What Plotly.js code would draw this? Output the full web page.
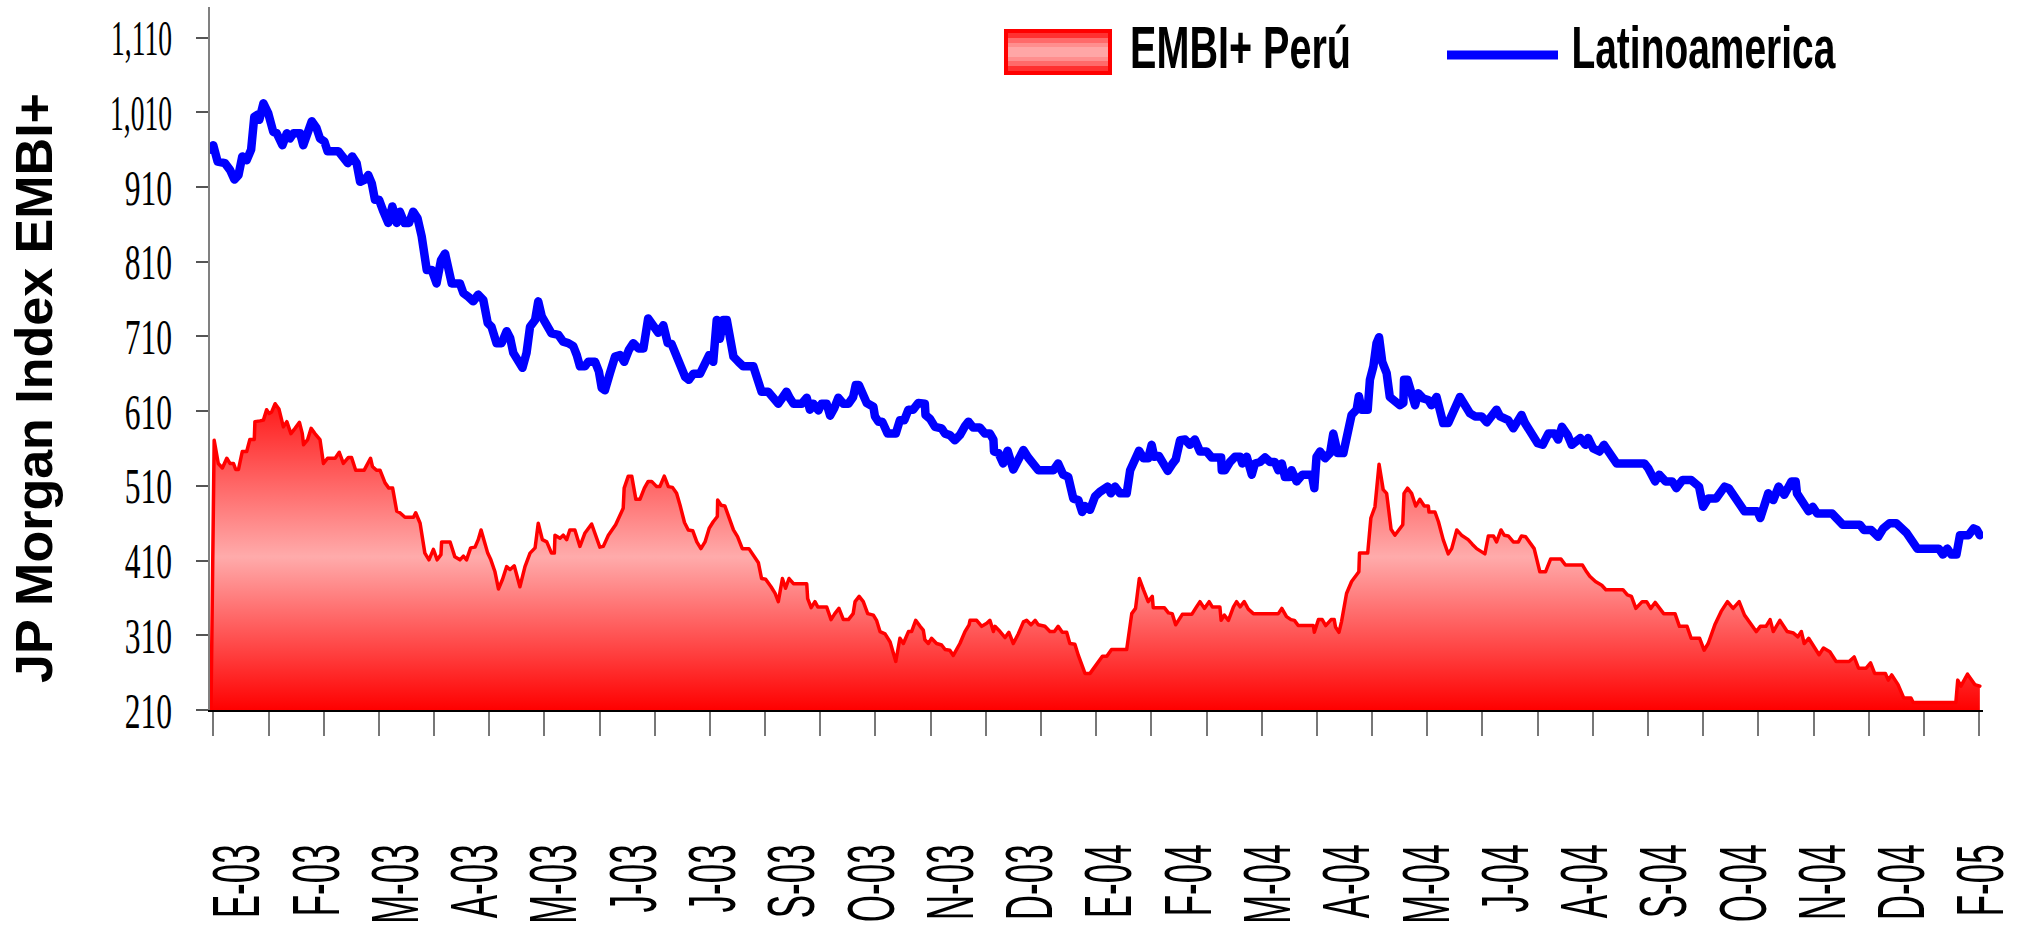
<!DOCTYPE html>
<html>
<head>
<meta charset="utf-8">
<script src="https://cdn.plot.ly/plotly-3.0.1.min.js"></script>
<style>
  html, body { margin: 0; padding: 0; background: #fff; }
  #chart { width: 2019px; height: 926px; }
  .scatterlayer .js-line { stroke-linejoin: round; stroke-linecap: round; }
</style>
</head>
<body>
<div id="chart"></div>
<script>
// ---- data (trading-day index along the x axis) ----
const latamX = [0,0.7,2.1,4.4,6.0,7.4,8.7,9.9,11.3,12.7,13.7,14.8,15.3,16.6,18.1,19.7,20.8,21.5,22.6,24.0,25.0,26.1,28.2,29.2,30.3,31.9,33.4,34.5,35.9,36.9,40.3,41.9,43.3,44.7,46.1,47.2,48.7,49.8,50.9,51.9,53.2,54.6,56.1,57.4,58.8,59.8,61.2,62.7,64.0,65.4,66.7,68.3,69.9,71.4,72.8,74.1,75.1,76.2,78.8,79.9,81.5,83.0,84.6,86.2,87.6,88.8,90.4,92.0,93.6,94.7,95.7,97.3,98.6,99.9,101.0,102.6,103.6,104.7,106.3,107.8,110.0,111.5,113.1,114.7,115.8,116.8,118.4,119.4,121.6,122.8,123.7,124.7,126.3,127.9,129.5,130.8,132.3,133.7,135.3,136.9,138.4,
140.0,141.6,143.2,144.6,145.8,147.4,148.8,150.1,151.3,152.7,154.8,156.4,157.7,159.0,160.1,161.1,162.2,163.3,164.3,165.4,167.0,168.5,171.7,173.3,174.3,176.4,178.0,179.6,180.9,182.2,183.3,184.4,187.0,188.6,189.6,190.7,192.3,193.3,194.9,196.0,197.3,198.6,200.2,201.8,203.3,204.1,205.1,206.5,207.6,209.7,210.2,211.3,212.5,214.2,216.8,218.1,219.5,220.8,222.3,223.9,226.0,226.2,227.6,229.2,231.3,232.4,233.9,235.5,237.1,238.7,239.8,241.3,243.4,245.0,246.6,247.7,247.9,249.3,250.8,252.2,254.0,255.6,257.2,258.7,260.3,261.9,266.7,268.2,269.8,271.4,273.0,274.6,275.8,276.7,278.3,
279.9,281.4,283.0,283.9,284.9,286.2,287.8,289.9,291.0,292.5,293.8,295.2,296.7,297.8,298.6,300.1,301.5,302.9,304.3,305.4,306.8,308.4,309.9,311.5,313.1,315.2,316.8,319.8,320.0,321.0,322.6,324.2,325.8,326.5,327.9,329.5,330.5,332.1,333.7,335.3,336.8,337.9,339.0,340.0,341.3,342.1,343.7,345.5,348.5,349.3,350.0,351.1,352.7,354.3,355.3,356.7,358.5,360.1,361.1,362.7,363.4,364.3,366.2,366.9,368.0,369.0,369.8,370.8,372.2,373.2,374.8,376.4,377.5,377.7,378.8,380.1,381.2,382.2,383.8,385.4,386.4,388.0,389.1,390.1,391.7,392.8,393.3,395.4,397.0,398.6,400.2,402.3,403.9,405.4,407.0,408.1,409.7,410.7,412.3,413.7,414.9,416.0,417.6,
420.0,421.6,423.4,425.4,426.5,427.7,429.5,430.8,433.5,435.1,436.0,437.6,439.6,441.0,443.0,445.0,453.8,455.1,457.2,458.5,460.5,462.6,463.9,465.9,468.6,471.1,472.4,474.0,476.5,479.2,480.5,482.1,485.5,489.6,490.5,493.0,494.6,496.3,498.1,500.4,501.7,502.1,503.7,505.8,507.1,508.5,513.2,516.6,522.0,523.3,525.6,527.8,529.4,531.4,533.5,535.5,536.8,540.2,547.0,548.3,549.7,551.0,552.6,553.7,556.4,558.0,559.1,560];
const latamY = [960,966,944,942,933,920,926,951,946,960,1004,1007,1000,1022,1009,984,982,973,966,982,975,982,982,966,982,998,989,975,971,958,958,949,942,951,942,917,920,926,915,893,893,877,862,884,862,877,862,862,877,868,844,799,799,781,812,821,804,781,781,768,763,757,766,759,728,723,701,701,717,708,688,676,668,688,723,732,757,737,723,714,712,703,701,697,685,670,670,676,676,663,641,638,661,683,685,676,692,701,694,694,734,
723,715,725,701,700,683,672,656,652,660,660,675,685,676,732,707,732,732,705,683,676,670,670,650,636,636,626,620,628,636,627,620,620,628,612,620,611,620,620,604,614,628,620,620,629,645,645,634,621,616,603,596,596,580,580,598,598,612,612,621,620,605,600,589,587,580,578,571,578,590,596,588,588,580,580,572,556,554,540,557,532,545,558,548,540,531,531,540,525,522,493,491,475,483,478,
496,502,505,509,500,509,500,500,531,545,557,547,547,565,549,550,540,530,539,545,571,572,565,572,556,556,548,548,531,531,542,549,549,540,549,525,540,542,548,542,542,531,540,522,522,531,516,525,525,507,549,556,547,554,580,554,554,580,605,612,630,612,612,652,670,701,709,676,661,629,625,618,621,652,652,632,618,634,627,625,618,629,612,594,594,603,612,629,618,607,603,603,595,603,612,603,598,598,587,598,605,594,583,
567,565,580,580,572,589,578,565,574,565,574,560,556,565,551,540,540,533,516,525,516,516,507,518,518,509,482,493,493,509,507,498,476,476,467,500,491,509,498,516,516,500,491,476,482,473,473,458,458,451,451,442,453,460,460,451,447,426,426,418,426,418,418,444,444,453,451,444];

const peruX = [0,1.0,2.3,3.6,5.0,6.0,7.1,7.8,8.7,9.9,11.3,12.3,13.7,13.9,15.5,16.6,17.6,18.4,19.2,20.3,21.5,22.9,24.0,25.3,26.6,28.0,28.9,29.3,30.6,31.7,32.9,34.5,35.6,36.9,39.3,40.6,41.9,43.5,44.5,45.8,48.5,49.8,50.5,51.1,52.4,53.5,55.1,56.3,57.5,58.8,59.8,61.4,64.1,64.8,66.2,67.7,69.0,70.4,71.6,72.8,73.0,75.7,77.2,78.8,79.9,80.9,82.2,83.6,84.6,85.5,86.7,87.6,88.6,89.9,91.0,92.3,93.6,94.7,96.0,97.8,99.4,101.0,102.6,103.6,104.9,106.3,107.8,108.7,108.9,110.5,111.5,112.6,113.6,115.2,116.8,118.4,120.5,123.1,124.2,125.8,128.1,129.5,130.5,130.8,132.1,133.2,134.5,135.8,137.2,138.4,
139.5,141.1,142.1,143.5,144.8,146.1,147.4,148.5,149.9,151.1,152.5,153.8,155.1,156.4,157.7,159.0,160.3,160.4,161.5,162.7,163.8,165.4,166.7,168.2,170.3,171.7,173.3,174.3,175.6,177.3,178.6,179.6,180.9,181.9,183.0,184.4,188.6,188.9,190.0,191.2,192.1,194.9,196.3,197.5,198.8,200.2,201.8,203.3,203.9,205.2,206.5,207.9,209.7,210.7,211.8,213.4,215.0,216.8,218.1,219.2,220.8,221.8,223.1,224.5,225.5,226.0,227.1,228.1,229.7,231.3,232.4,233.9,235.0,237.1,238.7,240.0,240.3,242.4,244.0,245.6,246.6,247.7,248.2,249.8,251.4,252.6,254.0,255.6,257.2,258.2,259.6,260.9,261.9,264.0,265.6,267.0,268.2,269.5,270.9,271.9,273.5,274.6,275.8,276.7,278.3,
280.4,282.2,283.6,285.1,289.9,291.5,292.7,293.9,295.2,296.7,298.0,298.3,301.8,303.1,304.3,305.4,307.5,310.5,312.0,313.1,314.5,316.0,317.0,319.4,319.8,320.8,322.1,323.7,324.7,325.8,327.1,328.4,330.0,337.9,339.0,340.5,341.9,343.0,344.2,349.0,349.3,350.6,351.8,352.9,354.6,355.6,356.0,357.1,357.9,359.5,361.1,363.4,363.6,366.2,367.2,368.5,369.8,371.1,372.2,373.6,374.8,377.3,377.7,378.8,380.1,381.4,382.7,384.1,385.4,385.6,387.5,388.6,390.1,391.7,392.8,394.4,395.9,398.0,399.3,400.7,403.3,404.4,406.0,407.0,408.4,409.4,410.7,412.3,413.9,414.9,416.2,417.6,
418.9,420.7,422.5,424.1,427.4,428.8,434.2,435.5,436.5,438.3,440.3,441.6,447.0,448.4,449.7,451.1,453.1,454.5,455.8,457.2,459.9,463.5,464.9,467.3,468.6,471.3,472.7,474.0,476.1,478.1,480.1,481.9,483.8,485.5,487.5,489.2,490.5,492.3,493.6,494.6,496.7,499.0,501.0,502.4,503.5,504.4,505.8,507.8,509.1,510.5,512.5,514.5,518.6,520.2,521.6,524.0,525.4,526.7,530.1,531.0,532.1,534.1,535.9,538.2,538.9,552.4,553.0,554.0,556.1,558.4,560];
const peruY = [212,571,540,534,547,540,540,532,532,556,556,572,572,596,597,598,612,607,609,620,613,589,596,580,587,595,580,565,572,587,580,572,540,547,547,555,540,548,548,531,531,540,547,536,531,531,514,507,507,476,474,468,468,474,460,420,411,425,411,418,435,435,415,411,416,411,427,428,438,451,435,420,411,395,372,385,402,398,403,375,402,420,427,460,438,435,420,420,444,440,444,438,451,451,429,447,459,428,429,444,458,471,480,507,523,523,492,492,507,516,
516,509,509,523,509,508,500,484,461,451,450,435,426,435,453,462,469,491,484,483,469,451,442,426,426,417,407,386,385,375,366,355,386,373,386,379,379,359,347,355,348,348,331,339,346,331,331,339,355,362,355,339,337,330,315,312,301,275,306,299,315,315,330,322,317,304,299,306,299,297,291,290,283,299,315,324,330,330,322,326,330,315,322,315,307,314,299,312,328,330,324,330,324,322,315,315,322,314,314,299,298,283,268,259,259,
272,282,282,291,291,339,346,386,371,355,362,347,347,340,339,324,338,338,348,355,346,355,348,348,330,337,330,348,355,348,355,345,339,339,346,335,331,330,323,323,314,331,331,323,331,331,321,314,328,366,382,395,420,420,467,482,539,505,500,452,444,458,500,507,500,483,492,483,483,475,475,462,438,419,426,451,444,438,432,426,419,443,443,435,451,444,443,435,435,443,442,434,
426,395,395,412,412,404,404,395,389,382,377,371,371,364,362,346,355,355,346,354,339,339,322,322,306,306,290,299,324,342,355,346,355,337,325,315,322,322,331,315,330,315,313,308,315,299,306,293,284,293,288,275,275,281,266,266,273,259,259,250,257,244,226,226,220,220,250,242,258,244,242];

const yTickVals = [210,310,410,510,610,710,810,910,1010,1110];
const yTickText = ['210','310','410','510','610','710','810','910','1,010','1,110'];
const xLabelPos = [8.5,33.6,58.7,83.8,108.9,134.0,159.1,184.2,209.3,234.4,259.5,284.6,309.7,334.8,359.9,385.0,410.1,435.2,460.3,485.4,510.5,535.6,560.7];
const xLabelText = ['E-03','F-03','M-03','A-03','M-03','J-03','J-03','S-03','O-03','N-03','D-03','E-04','F-04','M-04','A-04','M-04','J-04','A-04','S-04','O-04','N-04','D-04','F-05'];

const seriesNames = ['EMBI+ Perú', 'Latinoamerica'];
const yTitle = 'JP Morgan Index EMBI+';

// ---- layout helpers (pixel -> paper) ----
const W = 2019, H = 926;
const M = {l: 210, r: 36, t: 7, b: 216};
const PW = W - M.l - M.r, PH = H - M.t - M.b;
const px = v => (v - M.l) / PW;
const py = v => (H - M.b - v) / PH;

const traces = [
  {
    x: peruX, y: peruY, name: seriesNames[0], type: 'scatter', mode: 'lines',
    fill: 'tozeroy',
    fillgradient: {type: 'vertical', start: 210, stop: 620,
      colorscale: [[0, '#FF0000'], [0.5, '#FFABAB'], [1, '#FF1A1A']]},
    line: {color: '#FF0000', width: 3.5},
    showlegend: false, hoverinfo: 'skip'
  },
  {
    x: latamX, y: latamY, name: seriesNames[1], type: 'scatter', mode: 'lines',
    line: {color: '#0000FF', width: 8.5},
    showlegend: false, hoverinfo: 'skip'
  }
];

const legendFont = {family: 'Liberation Sans, Arial', size: 60, color: '#000', weight: 'bold'};

// legend swatch (gradient look made of bands)
const swX0 = 1004, swX1 = 1112, swY0 = 29, swY1 = 75;
const bands = [[0, '#FF0000'], [4, '#FF3030'], [9, '#FF6A6A'], [14, '#FF8E8E'], [18, '#FFA6A6']];
const shapes = bands.map(b => ({
  type: 'rect', xref: 'paper', yref: 'paper',
  x0: px(swX0 + (b[0] ? 4 : 0)), x1: px(swX1 - (b[0] ? 4 : 0)),
  y0: py(swY1 - b[0]), y1: py(swY0 + b[0]),
  fillcolor: b[1], line: {width: 0}, layer: 'above'
}));
shapes.push({type: 'line', xref: 'paper', yref: 'paper',
  x0: px(1447), x1: px(1558), y0: py(55), y1: py(55),
  line: {color: '#0000FF', width: 9}});

const layout = {
  width: W, height: H,
  margin: M,
  paper_bgcolor: '#FFFFFF', plot_bgcolor: '#FFFFFF',
  showlegend: false,
  xaxis: {
    type: 'linear', range: [-0.32, 561], autorange: false, fixedrange: true,
    showgrid: false, zeroline: false,
    showline: true, linecolor: '#000000', linewidth: 2,
    tickmode: 'array', tickvals: xLabelPos, ticktext: xLabelText,
    ticks: '', tickangle: -90, ticklabelstandoff: 106,
    tickfont: {family: 'Liberation Sans, Arial', size: 66, color: '#000'},
    minor: {ticks: 'outside', ticklen: 24, tickwidth: 2, tickcolor: '#777777',
            tick0: 0.73, dtick: 17.47, showgrid: false},
    automargin: false
  },
  yaxis: {
    range: [210, 1151], autorange: false, fixedrange: true,
    showgrid: false, zeroline: false,
    showline: true, linecolor: '#808080', linewidth: 2,
    tickmode: 'array', tickvals: yTickVals, ticktext: yTickText,
    ticks: 'outside', ticklen: 12, tickwidth: 2, tickcolor: '#555555',
    ticklabelstandoff: 14,
    tickfont: {family: 'Liberation Serif, Times New Roman, serif', size: 50, color: '#000'},
    automargin: false
  },
  shapes: shapes,
  annotations: [
    {text: yTitle, xref: 'paper', yref: 'paper', x: px(34), y: py(388),
     xanchor: 'center', yanchor: 'middle', textangle: -90, showarrow: false,
     font: {family: 'Liberation Sans, Arial', size: 52, color: '#000', weight: 'bold'}},
    {text: seriesNames[0], xref: 'paper', yref: 'paper', x: px(1240), y: py(47),
     xanchor: 'center', yanchor: 'middle', showarrow: false, font: legendFont},
    {text: seriesNames[1], xref: 'paper', yref: 'paper', x: px(1703), y: py(47),
     xanchor: 'center', yanchor: 'middle', showarrow: false, font: legendFont}
  ]
};

// condensed look of the original's texts
const condense = {'EMBI+ Perú': 221, 'Latinoamerica': 264};

function squeeze(t, f) {
  const w = t.getComputedTextLength();
  t.setAttribute('textLength', (w * f).toFixed(1));
  t.setAttribute('lengthAdjust', 'spacingAndGlyphs');
}

Plotly.newPlot('chart', traces, layout, {staticPlot: true, displayModeBar: false}).then(gd => {
  gd.querySelectorAll('.ytick text').forEach(t => squeeze(t, t.textContent.length > 3 ? 0.55 : 0.63));
  gd.querySelectorAll('.xtick text').forEach(t => squeeze(t, 0.53));
  gd.querySelectorAll('.annotation-text').forEach(t => {
    const target = condense[t.textContent];
    if (target) {
      t.setAttribute('textLength', String(target));
      t.setAttribute('lengthAdjust', 'spacingAndGlyphs');
    }
  });
});
</script>
</body>
</html>
